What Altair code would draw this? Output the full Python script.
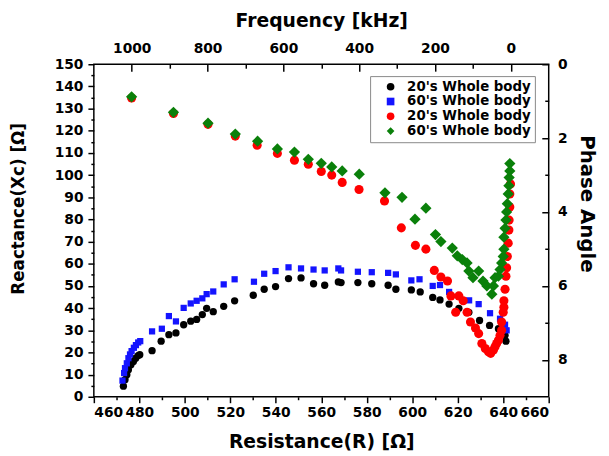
import json
import altair as alt
import pandas as pd

# ---------------- data ----------------
series_ids = ["s1", "s2", "s3", "s4"]
series_labels = ["20's Whole body", "60's Whole body", "20's Whole body", "60's Whole body"]
colors = ["#000000", "#1414ff", "#ff0000", "#0a800a"]
shapes = ["circle", "square", "circle", "diamond"]
sizes = [55, 40, 85, 130]

r_black = [473.0, 473.7, 474.5, 475.2, 476.3, 477.4, 478.4, 479.5, 480.2, 485.6, 489.6, 493.0, 496.1,
           499.5, 502.6, 505.2, 507.7, 509.6, 512.5, 517.1, 521.9, 530.1, 534.9, 539.9, 545.6, 551.1,
           556.6, 561.5, 567.5, 568.7, 576.1, 582.2, 589.4, 592.8, 599.6, 603.5, 609.0, 612.2, 616.2,
           620.5, 624.9, 629.6, 634.0, 637.9, 640.8, 641.2]
x_black = [4.8, 7.7, 9.9, 12.2, 14.4, 15.9, 17.4, 18.6, 19.0, 20.8, 25.1, 28.0, 28.8,
           32.5, 34.1, 34.9, 37.1, 39.9, 38.4, 40.8, 43.3, 45.8, 48.5, 49.7, 53.3, 53.6,
           51.0, 50.3, 51.8, 51.5, 51.5, 51.0, 50.3, 48.5, 48.2, 47.3, 44.8, 43.7, 41.8,
           39.9, 38.1, 34.4, 32.2, 30.7, 27.7, 25.1]

r_blue = [472.6, 473.3, 473.7, 474.5, 475.2, 475.9, 476.6, 477.6, 478.5, 479.5, 480.4, 485.6, 489.9,
          493.0, 496.1, 499.5, 502.6, 505.2, 507.7, 509.6, 512.5, 517.1, 521.9, 530.4, 534.9, 539.9,
          545.6, 551.1, 556.6, 561.5, 567.5, 568.7, 576.1, 582.2, 589.4, 592.8, 599.6, 603.2, 609.0,
          612.2, 616.2, 620.5, 625.0, 629.2, 634.2, 638.6, 640.8, 641.5]
x_blue = [7.3, 10.7, 12.9, 15.1, 17.4, 19.1, 20.6, 22.1, 23.3, 24.5, 25.1, 29.5, 30.7,
          36.4, 34.0, 40.1, 42.1, 43.3, 44.4, 46.3, 47.5, 50.7, 53.0, 51.9, 55.5, 56.7,
          58.4, 57.9, 57.4, 57.0, 57.9, 57.0, 56.4, 56.2, 55.9, 55.2, 52.5, 53.0, 50.0,
          50.4, 47.3, 45.5, 43.5, 41.8, 37.7, 35.2, 32.5, 30.0]

r_red = [476.6, 495.0, 510.2, 522.2, 531.8, 540.7, 548.2, 554.3, 560.0, 564.6, 569.2, 576.6, 587.8,
         595.2, 601.4, 606.0, 609.7, 612.6, 615.5, 617.0, 620.5, 622.4, 619.1, 624.1, 625.6, 627.8,
         629.2, 630.6, 632.1, 633.5, 634.5, 635.7, 636.4, 637.1, 637.9, 638.6, 639.3, 639.3, 640.0,
         640.3, 640.3, 640.8, 641.2, 641.5, 641.8, 642.2, 642.5, 642.6, 642.9, 642.9, 643.2]
x_red = [134.8, 127.8, 122.9, 117.6, 113.5, 109.8, 106.7, 104.9, 101.6, 100.0, 96.7, 93.5, 88.3,
         76.2, 68.3, 66.6, 57.0, 54.0, 52.2, 45.5, 45.5, 43.3, 38.1, 38.1, 33.7, 31.0,
         28.5, 24.0, 21.8, 20.3, 19.6, 21.1, 22.6, 24.0, 25.5, 27.7, 30.0, 33.7, 38.1,
         40.4, 43.3, 48.5, 54.4, 58.2, 63.3, 69.3, 75.2, 79.7, 85.6, 91.5, 96.0]

r_green = [476.6, 495.0, 510.2, 522.2, 532.0, 540.7, 548.2, 554.3, 560.0, 564.6, 569.2, 576.7, 588.0,
           595.5, 601.2, 606.0, 610.2, 612.6, 617.6, 619.8, 622.0, 624.1, 624.9, 626.7, 629.2, 631.1,
           632.8, 635.0, 635.7, 636.4, 637.9, 638.6, 639.3, 640.0, 640.3, 640.3, 640.8, 641.2, 641.5,
           641.8, 642.2, 642.5, 642.6, 642.9, 642.9]
x_green = [135.3, 128.3, 123.4, 118.5, 115.3, 111.8, 110.4, 107.1, 105.3, 103.7, 101.9, 100.4, 92.0,
           90.0, 80.1, 85.1, 73.2, 70.0, 67.1, 63.6, 61.9, 60.4, 56.7, 53.7, 56.7, 52.2,
           50.0, 46.3, 50.0, 53.7, 54.4, 57.4, 60.4, 63.3, 66.6, 72.0, 76.0, 79.7, 83.4,
           87.1, 91.5, 95.2, 98.9, 101.9, 105.2]

# axis tick values
res_ticks = list(range(460, 661, 10))
reac_ticks = list(range(0, 151, 5))
freq_major = [1000, 800, 600, 400, 200, 0]
freq_minor = [900, 700, 500, 300, 100]
phase_major = [0, 2, 4, 6, 8]
phase_minor = [1, 3, 5, 7]

# ---------------- build tables ----------------
rows = []
for sid, sz, rs, xs in zip(series_ids, sizes, [r_black, r_blue, r_red, r_green],
                           [x_black, x_blue, x_red, x_green]):
    for r, x in zip(rs, xs):
        rows.append({"R": r, "X": x, "series": sid, "sz": sz})
df = pd.DataFrame(rows)

label_expr = "''"
for sid, lab in reversed(list(zip(series_ids, series_labels))):
    label_expr = f"datum.label === {json.dumps(sid)} ? {json.dumps(lab)} : ({label_expr})"

FONT = "DejaVu Sans"
W, H = 461, 337

legend = alt.Legend(
    title=None, orient="none", legendX=280, legendY=12, direction="vertical",
    labelExpr=label_expr, labelFont=FONT, labelFontWeight="bold", labelFontSize=13.5,
    labelColor="black", fillColor="white", strokeColor="#888888", padding=4,
    rowPadding=0, symbolOffset=10, labelOffset=10, symbolStrokeWidth=0, labelLimit=300,
    symbolSize=60,
)

points = alt.Chart(df).mark_point(filled=True, opacity=1, strokeWidth=0).encode(
    x=alt.X("R:Q", scale=alt.Scale(domain=[460, 660], nice=False, zero=False),
            axis=alt.Axis(orient="bottom", values=res_ticks,
                          labelExpr="datum.value % 20 === 0 ? datum.label : ''",
                          tickSize={"condition": {"test": "datum.value % 20 === 0", "value": 6}, "value": 3},
                          labelPadding=3, title="Resistance(R) [Ω]", titleFontSize=19,
                          titleX=W / 2, titleY=51, titleBaseline="alphabetic", titleAlign="center")),
    y=alt.Y("X:Q", scale=alt.Scale(domain=[0, 150], nice=False, zero=False),
            axis=alt.Axis(orient="left", values=reac_ticks,
                          labelExpr="datum.value % 10 === 0 ? datum.label : ''",
                          tickSize={"condition": {"test": "datum.value % 10 === 0", "value": 6}, "value": 3},
                          labelPadding=5, title="Reactance(Xc) [Ω]", titleFontSize=17,
                          titleX=-76, titleY=146, titleAngle=270, titleBaseline="middle",
                          titleAlign="center")),
    color=alt.Color("series:N", scale=alt.Scale(domain=series_ids, range=colors), legend=legend),
    shape=alt.Shape("series:N", scale=alt.Scale(domain=series_ids, range=shapes), legend=legend),
    size=alt.Size("sz:Q", scale=None, legend=None),
)

freq_scale = alt.Scale(domain=[-100, 1100], reverse=True, nice=False, zero=False)
top_major = alt.Chart(pd.DataFrame({"f": freq_major})).mark_point(opacity=0).encode(
    x=alt.X("f:Q", scale=freq_scale,
            axis=alt.Axis(orient="top", values=freq_major, offset=-7, tickSize=7, labelPadding=9,
                          format="d", title="Frequency [kHz]", titleFontSize=19,
                          titleX=W / 2, titleY=-45, titleBaseline="alphabetic", titleAlign="center",
                          titleAngle=0)))
top_minor = alt.Chart(pd.DataFrame({"f": freq_minor})).mark_point(opacity=0).encode(
    x=alt.X("f:Q", scale=freq_scale,
            axis=alt.Axis(orient="top", values=freq_minor, offset=-4, tickSize=4, labels=False,
                          title="")))

phase_scale = alt.Scale(domain=[0, 9], reverse=True, nice=False, zero=False)
right_major = alt.Chart(pd.DataFrame({"p": phase_major})).mark_point(opacity=0).encode(
    y=alt.Y("p:Q", scale=phase_scale,
            axis=alt.Axis(orient="right", values=phase_major, offset=-7, tickSize=7, labelPadding=9,
                          format="d", title="Phase Angle", titleFontSize=20,
                          titleX=45, titleY=141, titleAngle=90, titleBaseline="middle",
                          titleAlign="center")))
right_minor = alt.Chart(pd.DataFrame({"p": phase_minor})).mark_point(opacity=0).encode(
    y=alt.Y("p:Q", scale=phase_scale,
            axis=alt.Axis(orient="right", values=phase_minor, offset=-4, tickSize=4, labels=False,
                          title="")))

chart = alt.layer(points, top_major, top_minor, right_major, right_minor).resolve_scale(
    x="independent", y="independent"
).properties(
    width=W, height=H,
    padding={"left": 87, "top": 54, "right": 53, "bottom": 57},
    autosize=alt.AutoSizeParams(type="none"),
    background="white",
).configure_view(
    stroke="black", strokeWidth=1.5
).configure_axis(
    labelFont=FONT, labelFontWeight="bold", labelFontSize=14, labelColor="black",
    titleFont=FONT, titleFontWeight="bold", titleColor="black",
    tickColor="black", tickWidth=1.5, domain=False, grid=False, labelOverlap=False,
)

chart.save("out.html", embed_options={"renderer": "svg", "actions": False})
